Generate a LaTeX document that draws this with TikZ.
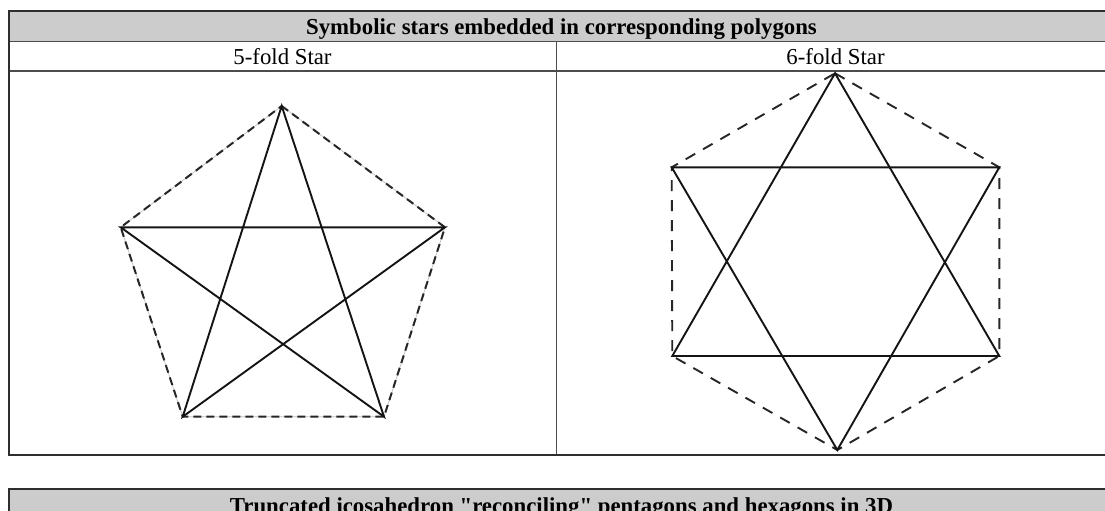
\documentclass[tikz,border=0pt]{standalone}
\usepackage{fontspec}
\setmainfont{Liberation Serif}[Ligatures=TeXOff]
\begin{document}
\begin{tikzpicture}[x=1pt,y=-1pt,
  outer/.style={line width=2pt,draw=black!82},
  inner/.style={line width=1.6pt,draw=black!70},
  hdr/.style={fill=black!20},
  star/.style={line width=1.9pt,draw=black!92,line join=miter},
  pdash/.style={line width=2pt,draw=black!85,dash pattern=on 8pt off 5pt},
  pthin/.style={line width=0.7pt,draw=black!25},
  hdash/.style={line width=1.9pt,draw=black!85,dash pattern=on 11pt off 9pt},
  txt/.style={inner sep=0pt,anchor=base,font=\fontsize{22.8}{27}\selectfont}]
\useasboundingbox (0,0) rectangle (1105,511);
\fill[white] (0,0) rectangle (1105,511);
% table 1
\fill[hdr] (9,11) rectangle (1114,41.5);
\draw[inner] (9,41.5) -- (1114,41.5);
\draw[inner] (9,71) -- (1114,71);
\draw[inner] (556.5,41.5) -- (556.5,455);
\draw[outer] (1114,11) -- (9,11) -- (9,455) -- (1114,455);
\node[txt,font=\fontsize{22.8}{27}\selectfont\bfseries] (h1) at (561.5,35) {Symbolic stars embedded in corresponding polygons};
\node[txt] (c5) at (282.5,64) {5-fold Star};
\node[txt] (c6) at (835.5,64) {6-fold Star};
% table 2
\fill[hdr] (9,488.5) rectangle (1114,520);
\draw[outer] (9,520) -- (9,488.5) -- (1114,488.5);
\node[txt,font=\fontsize{22.8}{27}\selectfont\bfseries] (h2) at (561.5,513) {Truncated icosahedron "reconciling" pentagons and hexagons in 3D};
% pentagon
\coordinate (pt) at (281.7,106);
\coordinate (pl) at (120.7,227.3);
\coordinate (pr) at (445,227.3);
\coordinate (pbl) at (182.7,416.7);
\coordinate (pbr) at (384,416.7);
\draw[pthin] (pt) -- (pr) -- (pbr) -- (pbl) -- (pl) -- cycle;
\draw[pdash] (pt) -- (pr) -- (pbr) -- (pbl) -- (pl) -- cycle;
\draw[star] (pt) -- (pbl) -- (pr) -- (pl) -- (pbr) -- cycle;
% hexagon
\coordinate (ht) at (835,73.3);
\coordinate (hul) at (671.7,167.3);
\coordinate (hur) at (999.3,167.3);
\coordinate (hll) at (672.3,356);
\coordinate (hlr) at (999.3,356);
\coordinate (hb) at (837.3,450);
\draw[hdash] (ht) -- (hur) -- (hlr) -- (hb) -- (hll) -- (hul) -- cycle;
\draw[star] (ht) -- (hll) -- (hlr) -- cycle;
\draw[star] (hul) -- (hur) -- (hb) -- cycle;
\end{tikzpicture}
\end{document}
